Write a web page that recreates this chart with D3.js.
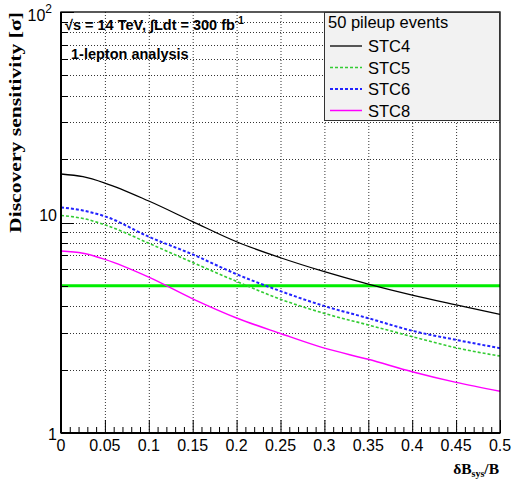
<!DOCTYPE html>
<html>
<head>
<meta charset="utf-8">
<script src="https://cdn.jsdelivr.net/npm/d3@7"></script>
<style>
	body { margin: 0; background: #fff; }
	svg { display: block; font-family: "Liberation Sans", Arial, sans-serif; }
</style>
</head>
<body>
<div id="chart"></div>
<script>
// valeurs
const xs = [0, 0.025, 0.05, 0.1, 0.15, 0.2, 0.25, 0.3, 0.35, 0.4, 0.45, 0.5];
const stc4 = [17.0, 16.5, 15.4, 12.65, 10.1, 8.1, 6.8, 5.84, 5.1, 4.52, 4.06, 3.66];
const stc5 = [10.8, 10.45, 9.75, 7.97, 6.45, 5.25, 4.32, 3.7, 3.26, 2.87, 2.54, 2.32];
const stc6 = [11.8, 11.4, 10.7, 8.56, 7.05, 5.68, 4.72, 4.01, 3.51, 3.06, 2.77, 2.53];
const stc8 = [7.32, 7.15, 6.68, 5.5, 4.34, 3.52, 2.97, 2.53, 2.24, 1.955, 1.74, 1.58];
const seuil = 5;
const xTicks = [0, 0.05, 0.1, 0.15, 0.2, 0.25, 0.3, 0.35, 0.4, 0.45, 0.5];
const yMinor = [2, 3, 4, 5, 6, 7, 8, 9, 20, 30, 40, 50, 60, 70, 80, 90];
const yMajor = [1, 10, 100];

const series = [
	{name: "STC4", values: stc4, color: "#000000", width: 1.3, dash: null},
	{name: "STC5", values: stc5, color: "#33cc33", width: 1.6, dash: "3,2"},
	{name: "STC6", values: stc6, color: "#2222ff", width: 2, dash: "3,2"},
	{name: "STC8", values: stc8, color: "#ff00ff", width: 1.5, dash: null},
];

const width = 515, height = 479;
const margin = {top: 12, right: 15, bottom: 46, left: 61};
const serif = "'Liberation Serif', 'Times New Roman', serif";

const svg = d3.select("#chart").append("svg")
	.attr("width", width)
	.attr("height", height);

const x = d3.scaleLinear([0, 0.5], [margin.left, width - margin.right]);
const y = d3.scaleLog([1, 100], [height - margin.bottom, margin.top]);

// grille
svg.append("g")
	.attr("stroke", "#333")
	.attr("stroke-width", 1)
	.attr("stroke-dasharray", "1,2")
	.call(g => g.selectAll(".vx")
		.data(xTicks.slice(1, -1))
		.join("line")
		.attr("x1", d => x(d) + .5).attr("x2", d => x(d) + .5)
		.attr("y1", y(100)).attr("y2", y(1)))
	.call(g => g.selectAll(".hy")
		.data(yMinor.concat([10]))
		.join("line")
		.attr("x1", x(0)).attr("x2", x(0.5))
		.attr("y1", d => Math.round(y(d)) + .5).attr("y2", d => Math.round(y(d)) + .5));

// ligne à 5 sigma
svg.append("line")
	.attr("x1", x(0)).attr("x2", x(0.5))
	.attr("y1", y(seuil)).attr("y2", y(seuil))
	.attr("stroke", "#00ee00")
	.attr("stroke-width", 3);

const line = d3.line()
	.x((d, i) => x(xs[i]))
	.y(d => y(d))
	.curve(d3.curveMonotoneX);

svg.append("g")
	.attr("fill", "none")
	.selectAll("path")
	.data(series)
	.join("path")
	.attr("stroke", d => d.color)
	.attr("stroke-width", d => d.width)
	.attr("stroke-dasharray", d => d.dash)
	.attr("d", d => line(d.values));

// graduations
const minorX = d3.range(0, 51).map(i => i / 100);
svg.append("g")
	.attr("stroke", "#000")
	.selectAll("line")
	.data(minorX)
	.join("line")
	.attr("x1", d => x(d) + .5).attr("x2", d => x(d) + .5)
	.attr("y1", y(1))
	.attr("y2", (d, i) => y(1) - (i % 5 === 0 ? 13 : 6));

svg.append("g")
	.attr("stroke", "#000")
	.selectAll("line")
	.data(yMinor.concat(yMajor))
	.join("line")
	.attr("x1", x(0))
	.attr("x2", d => x(0) + (yMajor.includes(d) ? 13 : 7))
	.attr("y1", d => Math.round(y(d)) + .5).attr("y2", d => Math.round(y(d)) + .5);

// cadre
svg.append("rect")
	.attr("x", x(0)).attr("y", y(100))
	.attr("width", x(0.5) - x(0)).attr("height", y(1) - y(100))
	.attr("fill", "none")
	.attr("stroke", "#000")
	.attr("stroke-width", 1.3);
svg.append("line")
	.attr("x1", x(0)).attr("x2", x(0))
	.attr("y1", y(100)).attr("y2", y(1))
	.attr("stroke", "#000").attr("stroke-width", 2);
svg.append("line")
	.attr("x1", x(0)).attr("x2", x(0.5))
	.attr("y1", y(1)).attr("y2", y(1))
	.attr("stroke", "#000").attr("stroke-width", 2);

// étiquettes
svg.append("g")
	.attr("font-size", 16)
	.attr("text-anchor", "middle")
	.selectAll("text")
	.data(xTicks)
	.join("text")
	.attr("x", d => x(d))
	.attr("y", y(1) + 18)
	.text(d => d3.format("~g")(d));

const ylab = svg.append("g").attr("font-size", 16).attr("text-anchor", "end");
ylab.append("text").attr("x", 57).attr("y", y(1) + 7).text("1");
ylab.append("text").attr("x", 57).attr("y", y(10) - 2).text("10");
ylab.append("text").attr("x", 52).attr("y", y(100) + 9)
	.text("10")
	.append("tspan").attr("font-size", 12).attr("dy", -8).text("2");

svg.append("text")
	.attr("transform", `translate(21,${margin.top + 221}) rotate(-90)`)
	.style("font-family", serif)
	.attr("font-weight", "bold")
	.attr("font-size", 17)
	.attr("textLength", 221)
	.attr("lengthAdjust", "spacingAndGlyphs")
	.text("Discovery sensitivity [σ]");

const xt = svg.append("text")
	.attr("x", x(0.5) - 1)
	.attr("y", 474)
	.attr("text-anchor", "end")
	.style("font-family", serif)
	.attr("font-weight", "bold")
	.attr("font-size", 15.5);
xt.append("tspan").text("δB");
xt.append("tspan").attr("font-size", 10).attr("dy", 3).text("sys");
xt.append("tspan").attr("dy", -3).text("/B");

// annotations
const ann = svg.append("g").attr("font-weight", "bold").attr("font-size", 14.5);
const t1 = ann.append("text").attr("x", 65).attr("y", 30);
t1.append("tspan").text("√s = 14 TeV, ∫Ldt = 300 fb");
t1.append("tspan").attr("font-size", 10).attr("dy", -6).text("-1");
ann.append("text").attr("x", 71).attr("y", 59).text("1-lepton analysis");

// légende
const leg = svg.append("g");
leg.append("rect")
	.attr("x", 324.5).attr("y", 12.5)
	.attr("width", 175).attr("height", 108)
	.attr("fill", "#f2f2f2")
	.attr("stroke", "#333");
leg.append("text")
	.attr("x", 328).attr("y", 28)
	.attr("font-size", 16.5)
	.text("50 pileup events");
leg.selectAll("g")
	.data(series)
	.join("g")
	.attr("transform", (d, i) => `translate(0,${46 + i * 21.5})`)
	.call(g => g.append("line")
		.attr("x1", 330).attr("x2", 362)
		.attr("stroke", d => d.color)
		.attr("stroke-width", d => d.width)
		.attr("stroke-dasharray", d => d.dash))
	.call(g => g.append("text")
		.attr("x", 368).attr("y", 6)
		.attr("font-size", 16.5)
		.text(d => d.name));
</script>
</body>
</html>
